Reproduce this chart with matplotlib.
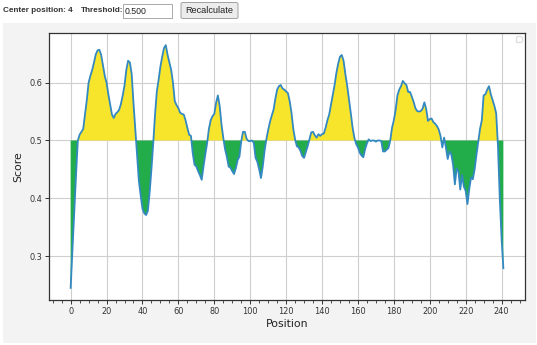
import numpy as np
import matplotlib.pyplot as plt
from matplotlib.patches import Rectangle, FancyBboxPatch
from matplotlib.ticker import MultipleLocator

W, H = 537, 345

center_position = 4
threshold = 0.500

# window score for every residue position
score = np.array([
    0.245, 0.310, 0.375, 0.440, 0.500, 0.510, 0.515, 0.520, 0.545, 0.570,
    0.600, 0.612, 0.622, 0.635, 0.649, 0.656, 0.657, 0.648, 0.630, 0.612,
    0.600, 0.580, 0.562, 0.545, 0.539, 0.546, 0.549, 0.553, 0.563, 0.578,
    0.595, 0.622, 0.638, 0.635, 0.615, 0.565, 0.520, 0.475, 0.430, 0.405,
    0.382, 0.374, 0.371, 0.378, 0.410, 0.450, 0.495, 0.545, 0.585, 0.605,
    0.628, 0.645, 0.660, 0.665, 0.648, 0.635, 0.622, 0.600, 0.568, 0.561,
    0.556, 0.548, 0.546, 0.545, 0.535, 0.522, 0.510, 0.508, 0.478, 0.458,
    0.455, 0.447, 0.440, 0.432, 0.455, 0.476, 0.495, 0.520, 0.535, 0.542,
    0.546, 0.565, 0.578, 0.560, 0.528, 0.505, 0.485, 0.472, 0.455, 0.453,
    0.447, 0.442, 0.452, 0.466, 0.472, 0.498, 0.515, 0.515, 0.503, 0.499,
    0.499, 0.500, 0.496, 0.470, 0.463, 0.450, 0.435, 0.455, 0.482, 0.502,
    0.518, 0.532, 0.543, 0.553, 0.572, 0.588, 0.594, 0.596, 0.590, 0.588,
    0.585, 0.582, 0.568, 0.548, 0.520, 0.502, 0.490, 0.488, 0.482, 0.473,
    0.470, 0.480, 0.490, 0.502, 0.514, 0.515, 0.509, 0.505, 0.511, 0.508,
    0.511, 0.512, 0.522, 0.535, 0.545, 0.562, 0.580, 0.596, 0.617, 0.633,
    0.645, 0.648, 0.638, 0.615, 0.595, 0.572, 0.548, 0.523, 0.505, 0.494,
    0.488, 0.479, 0.474, 0.471, 0.485, 0.495, 0.502, 0.499, 0.500, 0.500,
    0.498, 0.500, 0.500, 0.499, 0.481, 0.481, 0.484, 0.487, 0.500, 0.522,
    0.535, 0.553, 0.578, 0.588, 0.594, 0.603, 0.599, 0.596, 0.584, 0.584,
    0.576, 0.567, 0.556, 0.551, 0.550, 0.551, 0.555, 0.566, 0.555, 0.534,
    0.537, 0.538, 0.532, 0.529, 0.525, 0.519, 0.508, 0.488, 0.505, 0.488,
    0.468, 0.481, 0.476, 0.458, 0.424, 0.452, 0.446, 0.415, 0.440, 0.420,
    0.413, 0.390, 0.416, 0.436, 0.433, 0.450, 0.475, 0.497, 0.520, 0.535,
    0.578, 0.580, 0.588, 0.594, 0.580, 0.570, 0.560, 0.547, 0.490, 0.400,
    0.330, 0.279,
])
position = np.arange(len(score))

yellow = '#f7e52b'
green = '#22ad4a'
blue = '#3389c0'


def fx(px):
    return px / W


def fy(py):
    return 1 - py / H


fig = plt.figure(figsize=(W / 100, H / 100), dpi=100, facecolor='white')

# gray panel behind the chart
fig.patches.append(Rectangle((fx(3), fy(343)), fx(533), 320 / H,
                             transform=fig.transFigure, facecolor='#f3f3f3',
                             edgecolor='none', zorder=-10))

# form controls above the chart
fig.text(fx(3), fy(11), 'Center position: %d' % center_position, fontsize=5.9,
         fontweight='bold', family='Liberation Sans', color='#333333', va='center')
fig.text(fx(81), fy(11), 'Threshold:', fontsize=5.9, fontweight='bold',
         family='Liberation Sans', color='#333333', va='center')
fig.patches.append(Rectangle((fx(123), fy(18)), fx(49), 14 / H,
                             transform=fig.transFigure, facecolor='white',
                             edgecolor='#a9a9a9', lw=0.7))
fig.text(fx(125), fy(11.5), '%.3f' % threshold, fontsize=6.3,
         family='Liberation Sans', color='#222222', va='center')
fig.patches.append(FancyBboxPatch((fx(181), fy(18.5)), fx(57), 16 / H,
                                  boxstyle='round,pad=0,rounding_size=0.004',
                                  transform=fig.transFigure, facecolor='#ececec',
                                  edgecolor='#a0a0a0', lw=0.7))
fig.text(fx(209.5), fy(10.5), 'Recalculate', fontsize=6.6,
         family='Liberation Sans', color='#222222', va='center', ha='center')

ax = fig.add_axes([fx(49), fy(300), fx(476), 267 / H])
ax.set_facecolor('white')

ax.fill_between(position, score, threshold, where=score >= threshold,
                interpolate=True, color=yellow, lw=0, zorder=2)
ax.fill_between(position, score, threshold, where=score <= threshold,
                interpolate=True, color=green, lw=0, zorder=2)
ax.plot(position, score, color=blue, lw=1.3, zorder=3)

ax.margins(x=0.05, y=0.05)
ax.xaxis.set_major_locator(MultipleLocator(20))
ax.xaxis.set_minor_locator(MultipleLocator(5))
ax.set_yticks([0.3, 0.4, 0.5, 0.6])
ax.grid(True, which='major', color='#cfcfcf', lw=0.8, zorder=0)
ax.set_axisbelow(True)

for s in ax.spines.values():
    s.set_color('#333333')
    s.set_linewidth(0.9)
ax.tick_params(which='major', length=3, width=0.7, pad=2, labelsize=5.9,
               colors='#333333')
ax.tick_params(which='minor', length=2, width=0.6, colors='#333333')

ax.set_xlabel('Position', fontsize=7.8, color='#222222', labelpad=2)
ax.set_ylabel('Score', fontsize=7.8, color='#222222', labelpad=4)

leg = ax.legend(handles=[], loc='upper right', fontsize=5)
leg.get_frame().set_edgecolor('#d8d8d8')

fig.savefig('out.png', dpi=100, facecolor=fig.get_facecolor())
